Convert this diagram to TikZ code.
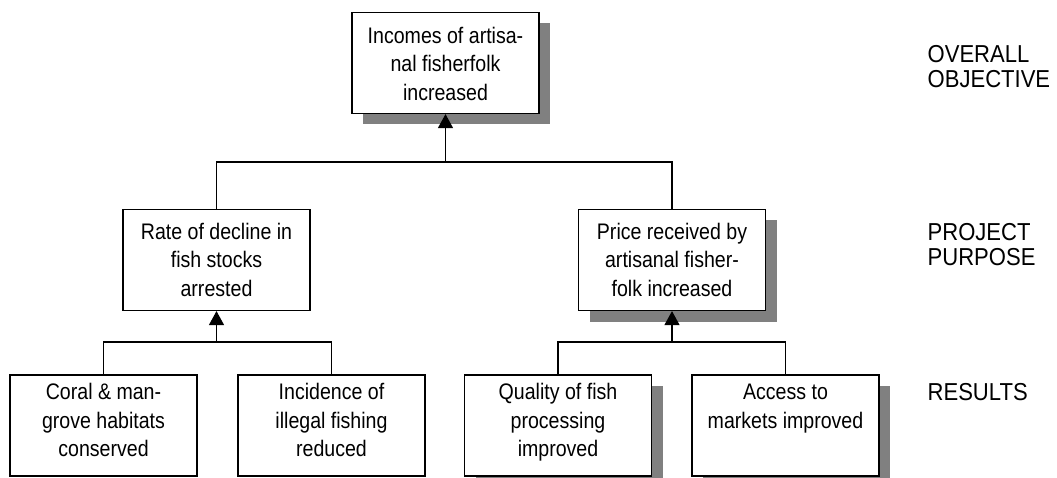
\documentclass[tikz,border=0pt]{standalone}
\usepackage{fontspec}
\usetikzlibrary{arrows.meta,shadows}
\newfontfamily\boxfont[FakeStretch=0.87]{Liberation Sans}
\newfontfamily\levelfont[FakeStretch=0.9]{Liberation Sans}
\definecolor{shadowgray}{RGB}{128,128,128}
% three centred lines, top-aligned inside a frame of the given height
\newcommand{\boxlines}[2]{\parbox[c][#1][t]{180pt}{\centering\boxfont\fontsize{22.5}{28.5}\selectfont\rule{0pt}{16pt}#2}}
\begin{document}
\begin{tikzpicture}[x=1pt,y=-1pt,line width=1.3pt,
  box/.style={draw, fill=white, minimum width=187pt, minimum height=101pt, inner sep=0pt, line width=1.2pt},
  shadowed/.style={drop shadow={shadow xshift=11pt, shadow yshift=-11pt, fill=shadowgray, opacity=1}},
  arrow/.style={-{Triangle[width=15pt,length=14pt]}},
  level/.style={anchor=north west, inner sep=0pt, align=left, font=\levelfont\fontsize{24.5}{25}\selectfont}]
\path[use as bounding box] (0,0) rectangle (1057,478);

% overall objective
\node[box,shadowed] (goal) at (445.5,63) {\boxlines{72pt}{Incomes of artisa-\\nal fisherfolk\\increased}};

% project purposes
\node[box] (stocks) at (216.5,260) {\boxlines{74pt}{Rate of decline in\\fish stocks\\arrested}};
\node[box,shadowed] (price) at (672,260) {\boxlines{74pt}{Price received by\\artisanal fisher-\\folk increased}};

% results
\node[box] (coral) at (103.5,425.5) {\boxlines{84pt}{Coral \& man-\\grove habitats\\conserved}};
\node[box] (illegal) at (331.5,425.5) {\boxlines{84pt}{Incidence of\\illegal fishing\\reduced}};
\node[box,shadowed] (quality) at (558,425.5) {\boxlines{84pt}{Quality of fish\\processing\\improved}};
\node[box,shadowed] (access) at (785.5,425.5) {\boxlines{84pt}{Access to\\markets improved}};

% connectors
\coordinate (bartop) at (445.5,162);
\coordinate (barleft) at (216.5,342);
\coordinate (barright) at (672,342);
\draw (stocks.north) |- (bartop) -| (price.north);
\draw[arrow] (bartop) -- (goal.south);
\draw (coral.north) |- (barleft) -| (illegal.north);
\draw[arrow] (barleft) -- (stocks.south);
\draw (quality.north) |- (barright) -| (access.north);
\draw[arrow] (barright) -- (price.south);

% level labels
\node[level] (lvlgoal) at (927,45) {OVERALL\\OBJECTIVE};
\node[level] (lvlpurpose) at (927,223) {PROJECT\\PURPOSE};
\node[level] (lvlresults) at (927,383) {RESULTS};
\end{tikzpicture}
\end{document}
